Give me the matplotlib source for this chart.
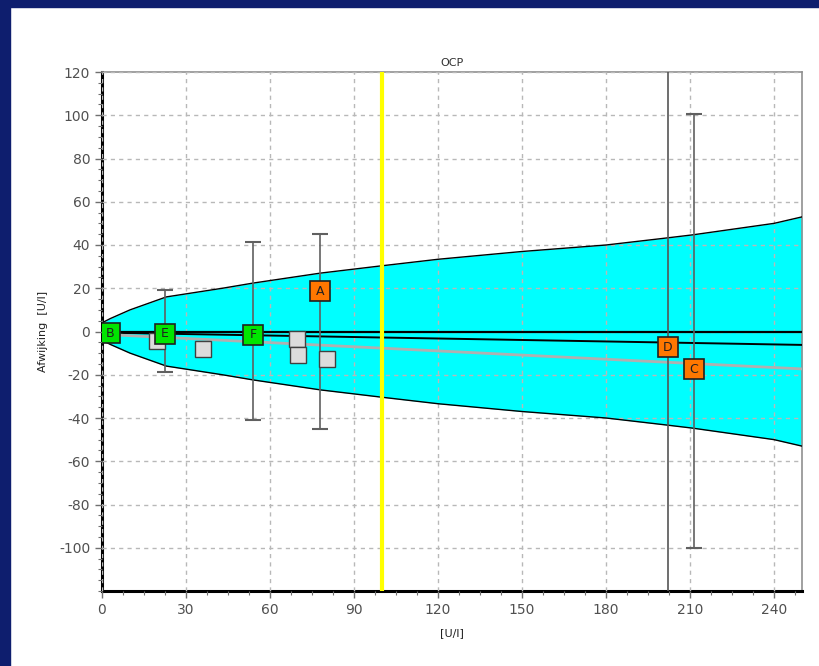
import numpy as np
import matplotlib
matplotlib.use("Agg")
import matplotlib.pyplot as plt
from matplotlib.patches import Rectangle
from matplotlib.ticker import MultipleLocator

plt.rcParams["axes.unicode_minus"] = False

# envelope (allowed error), symmetric around 0
env_x = [0, 3, 10, 23, 43, 54, 78, 100, 120, 150, 180, 200, 211, 240, 250]
env_hi = [4, 6, 10, 16, 20, 22.4, 27, 30.4, 33.4, 37, 40, 43, 44.7, 50, 53]

# regression lines
reg_x = [0, 250]
reg_black = [-0.5, -6.2]
reg_grey = [-1.3, -17.3]

# labelled samples
lab_names = ["B", "E", "F", "A", "D", "C"]
lab_x = [3, 22.5, 54, 78, 202, 211.3]
lab_y = [-0.8, -1.0, -1.5, 18.5, -7.2, -17.4]
lab_col = ["#00e600", "#00e600", "#00e600", "#ff7700", "#ff7700", "#ff7700"]

# ranges with caps
rng_x = [22.5, 54, 78, 211.3]
rng_lo = [-18.8, -40.8, -45, -100]
rng_hi = [19.3, 41.3, 45.1, 100.5]

# other samples (grey)
grey_x = [19.5, 36, 69.5, 70.1, 80.5]
grey_y = [-4.6, -8.0, -3.4, -10.8, -12.8]

ocp_x = 100
d_line_x = 202

fig = plt.figure(figsize=(8.2, 6.66), dpi=100)
fig.patch.set_facecolor("white")
navy = "#0e1e6e"
fig.patches.append(Rectangle((0, 0), 10 / 820, 1, transform=fig.transFigure, color=navy, zorder=0))
fig.patches.append(Rectangle((0, 1 - 7 / 666), 1, 7 / 666, transform=fig.transFigure, color=navy, zorder=0))

ax = fig.add_axes([102 / 820, 1 - 591 / 666, 700 / 820, 519 / 666])

env_lo = [-v for v in env_hi]
ax.fill_between(env_x, env_lo, env_hi, color="#00ffff", zorder=1, linewidth=0)
ax.plot(env_x, env_hi, color="black", lw=1, zorder=3)
ax.plot(env_x, env_lo, color="black", lw=1, zorder=3)

ax.grid(True, color="#b8b8b8", linestyle=(0, (3, 3)), lw=1)
ax.set_axisbelow(False)
for gl in ax.get_xgridlines() + ax.get_ygridlines():
    gl.set_zorder(2)

ax.axhline(0, color="black", lw=1.6, zorder=3)
ax.plot(reg_x, reg_black, color="black", lw=1.4, zorder=3)
ax.plot(reg_x, reg_grey, color="#b0b0b0", lw=2, zorder=3)

ax.axvline(ocp_x, color="#ffff00", lw=3, zorder=3)
ax.axvline(d_line_x, color="#555555", lw=1.2, zorder=3)

ax.vlines(rng_x, rng_lo, rng_hi, color="#606060", lw=1.2, zorder=4)
ax.plot(rng_x, rng_lo, ls="none", marker="_", ms=11, mew=1.5, color="#606060", zorder=4)
ax.plot(rng_x, rng_hi, ls="none", marker="_", ms=11, mew=1.5, color="#606060", zorder=4)

ax.plot(grey_x, grey_y, ls="none", marker="s", ms=11, mfc="#dcdcdc", mec="#404040", mew=1, zorder=5)

for n, x, y, c in zip(lab_names, lab_x, lab_y, lab_col):
    ax.plot([x], [y], ls="none", marker="s", ms=15, mfc=c, mec="#202020", mew=1.2, zorder=6)
    ax.text(x, y, n, ha="center", va="center", fontsize=9, color="#202020", zorder=7, clip_on=True)

ax.set_xlim(0, 250)
ax.set_ylim(-120, 120)
ax.xaxis.set_major_locator(MultipleLocator(30))
ax.xaxis.set_minor_locator(MultipleLocator(7.5))
ax.yaxis.set_major_locator(MultipleLocator(20))
ax.yaxis.set_minor_locator(MultipleLocator(5))
ax.set_yticks([-100, -80, -60, -40, -20, 0, 20, 40, 60, 80, 100, 120])
ax.tick_params(which="both", direction="out", colors="#707070", labelcolor="#505050", labelsize=10)
ax.tick_params(which="major", length=5, width=1)
ax.tick_params(which="minor", length=3, width=0.8)

ax.spines["left"].set_linewidth(2.2)
ax.spines["left"].set_color("black")
ax.spines["bottom"].set_linewidth(2.2)
ax.spines["bottom"].set_color("black")
ax.spines["top"].set_color("#909090")
ax.spines["right"].set_color("#909090")
ax.spines["top"].set_linewidth(1.2)
ax.spines["right"].set_linewidth(1.2)

ax.set_title("OCP", fontsize=8, color="#303030", pad=4)
ax.set_xlabel("[U/l]", fontsize=8, color="#202020", labelpad=8)
ax.set_ylabel("Afwijking  [U/l]", fontsize=8, color="#202020", labelpad=8)

fig.savefig("out.png", dpi=100)
